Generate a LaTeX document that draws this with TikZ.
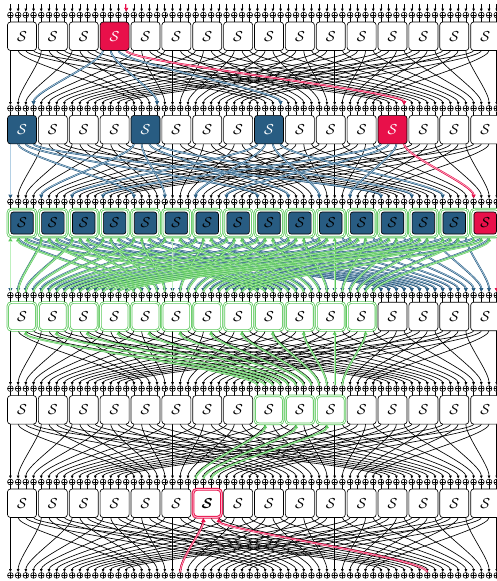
\documentclass[tikz,border=0pt]{standalone}
\usepackage{amsmath}
\usetikzlibrary{arrows.meta}
\definecolor{cred}{RGB}{232,16,74}
\definecolor{credL}{RGB}{250,170,195}
\definecolor{cblue}{RGB}{40,92,130}
\definecolor{cblueL}{RGB}{180,208,228}
\definecolor{cgreen}{RGB}{92,200,92}
\definecolor{cgreenL}{RGB}{190,240,190}
\newcommand\hwire[3]{%
  \pgfmathtruncatemacro\hrn{#2+1}%
  \pgfmathtruncatemacro\hj{ifthenelse(#3==63,63,mod(16*#3,63))}%
  \draw[#1] (b#2-#3) .. controls +(0,12) and +(0,-14) .. (x\hrn-\hj.north);}
\begin{document}
\begin{tikzpicture}[x=1pt,y=-1pt,
  declare function={bx(\a)=10.4+7.72*\a; ry(\a)=15+93.4*\a;},
  xorc/.style={circle,draw,line width=0.55pt,inner sep=0pt,minimum size=5.8pt,fill=white,
    path picture={\draw[line width=0.55pt] (path picture bounding box.north)--(path picture bounding box.south) (path picture bounding box.west)--(path picture bounding box.east);}},
  bwire/.style={line width=0.65pt},
  wtip/.style={-{Latex[length=3.2pt,width=3pt]}},
  sbox/.style={draw,line width=0.65pt,rounded corners=3pt,fill=white,minimum width=29pt,minimum height=28.5pt,inner sep=0pt,font=\fontsize{15.5}{15.5}\selectfont},
  isbox/.style={sbox,minimum width=22.5pt,minimum height=22pt,rounded corners=2.5pt},
  gframe/.style={draw=cgreen,double=white,double distance=0.8pt,line width=0.8pt,rounded corners=4pt,fill=white,minimum width=28.5pt,minimum height=28pt,inner sep=0pt},
  rframe/.style={gframe,draw=cred,double=credL,line width=0.9pt,double distance=1pt},
  hblue/.style={draw=cblue,line width=1.7pt,-{Latex[length=4pt,width=4.6pt]},postaction={draw=cblueL,line width=0.6pt,-,shorten >=4pt}},
  hred/.style={draw=cred,line width=1.9pt,-{Latex[length=4pt,width=4.8pt]},postaction={draw=credL,line width=0.7pt,-,shorten >=4pt}},
  hgreen/.style={draw=cgreen,line width=1.8pt,{Latex[length=4pt,width=4.6pt]}-,postaction={draw=cgreenL,line width=0.5pt,-,shorten <=4pt}},
  hredup/.style={draw=cred,line width=1.9pt,{Latex[length=4.5pt,width=5pt]}-,postaction={draw=credL,line width=0.7pt,-,shorten <=4.5pt}},
]
\path[use as bounding box] (0,0) rectangle (497,581);
% box centres
\foreach \r in {0,...,5}\foreach \k in {0,...,15}\coordinate (c\r-\k) at ({bx(4*\k+1.5)},{ry(\r)+21.25});
% xors
\foreach \r in {0,...,6}\foreach \i in {0,...,63}\node[xorc] (x\r-\i) at ({bx(\i)},{ry(\r)}) {};
% top inputs
\foreach \i in {0,...,63}{\coordinate (in\i) at ({bx(\i)},4); \draw[bwire,wtip] (in\i) -- (x0-\i.north);}
% xor to box, box outputs
\foreach \r in {0,...,5}\foreach \i in {0,...,63}{
  \coordinate (t\r-\i) at ({bx(\i)},{ry(\r)+7});
  \coordinate (b\r-\i) at ({bx(\i)},{ry(\r)+35.5});
  \draw[bwire] (x\r-\i.south) -- (t\r-\i);}
% permutation wires
\foreach \r in {0,...,5}{\pgfmathtruncatemacro\rn{\r+1}
  \foreach \i in {0,...,63}{\pgfmathtruncatemacro\j{ifthenelse(\i==63,63,mod(16*\i,63))}
    \draw[bwire,wtip] (b\r-\i) .. controls +(0,12) and +(0,-14) .. (x\rn-\j.north);}}
% blue trail
\foreach \i in {12,13,14}{\hwire{hblue}{0}{\i}}
\foreach \i in {0,1,2,3,16,17,18,19,32,33,34,35,48,49,50}{\hwire{hblue}{1}{\i}}
\foreach \i in {0,...,62}{\hwire{hblue}{2}{\i}}
% green trail
\foreach \k in {0,...,15}\foreach \m in {0,1,2}{\pgfmathtruncatemacro\ii{4*\k+\m}\hwire{hgreen}{2}{\ii}}
\foreach \k in {0,...,11}{\pgfmathtruncatemacro\ii{4*\k+2}\hwire{hgreen}{3}{\ii}}
\foreach \i in {33,37,41}{\hwire{hgreen}{4}{\i}}
% red trail
\draw[hred] (in15) -- (x0-15.north);
\hwire{hred}{0}{15}
\hwire{hred}{1}{51}
\hwire{hred}{2}{63}
\hwire{hredup}{5}{25}
\hwire{hredup}{5}{27}
% boxes round 0
\foreach \k in {0,1,2,4,5,...,15}\node[sbox] (s0-\k) at (c0-\k) {$\mathcal{S}$};
\node[sbox,fill=cred,text=white] (s0-3) at (c0-3) {$\mathcal{S}$};
% round 1
\foreach \k in {1,2,3,5,6,7,9,10,11,13,14,15}\node[sbox] (s1-\k) at (c1-\k) {$\mathcal{S}$};
\foreach \k in {0,4,8}\node[sbox,fill=cblue,text=white] (s1-\k) at (c1-\k) {$\mathcal{S}$};
\node[sbox,fill=cred,text=white] (s1-12) at (c1-12) {$\mathcal{S}$};
% round 2
\foreach \k in {0,...,15}\node[gframe] (f2-\k) at (c2-\k) {};
\foreach \k in {0,...,14}\node[isbox,fill=cblue] (s2-\k) at (c2-\k) {$\mathcal{S}$};
\node[isbox,fill=cred] (s2-15) at (c2-15) {$\mathcal{S}$};
% round 3
\foreach \k in {0,...,11}{\node[gframe] (f3-\k) at (c3-\k) {};
  \node[isbox,draw=none] (s3-\k) at (c3-\k) {$\mathcal{S}$};}
\foreach \k in {12,...,15}\node[sbox] (s3-\k) at (c3-\k) {$\mathcal{S}$};
% round 4
\foreach \k in {8,9,10}{\node[gframe] (f4-\k) at (c4-\k) {};
  \node[isbox,draw=none] (s4-\k) at (c4-\k) {$\mathcal{S}$};}
\foreach \k in {0,...,7,11,12,13,14,15}\node[sbox] (s4-\k) at (c4-\k) {$\mathcal{S}$};
% round 5
\node[rframe] (f5-6) at (c5-6) {};
\node[isbox,draw=none] (s5-6) at (c5-6) {$\boldsymbol{\mathcal{S}}$};
\foreach \k in {0,...,5,7,8,...,15}\node[sbox] (s5-\k) at (c5-\k) {$\mathcal{S}$};
\end{tikzpicture}
\end{document}
